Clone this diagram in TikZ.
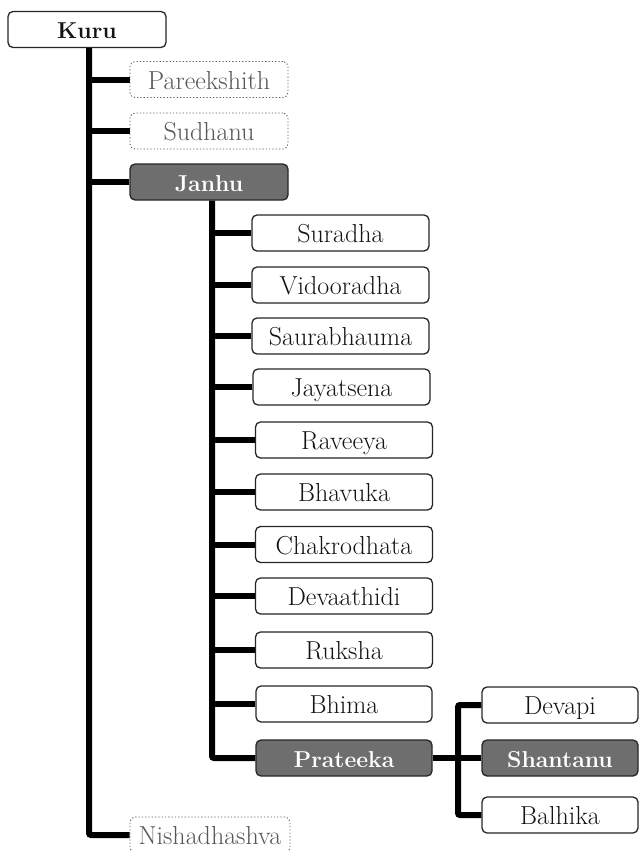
\documentclass[tikz,border=0pt]{standalone}
\usepackage{fontspec}
\begin{document}
\begin{tikzpicture}[x=1pt,y=-1pt,
  box/.style={draw=black!85, line width=1.3pt, rounded corners=5pt, minimum height=36pt,
    inner sep=0pt, text height=21pt, text depth=2pt, fill=white, text=black!92,
    font=\fontsize{26}{30}\selectfont},
  ghost/.style={box, draw=black!62, dotted, line width=0.9pt, text=black!66},
  hl/.style={box, fill=black!57, text=white, font=\bfseries\fontsize{23}{27}\selectfont},
  boldbox/.style={box, font=\bfseries\fontsize{23}{27}\selectfont},
  conn/.style={line width=6pt, draw=black, rounded corners=2pt}]
\useasboundingbox (0,0) rectangle (639,851);
% level 1
\node[boldbox, minimum width=158pt] (kuru) at (87,29.5) {Kuru};
\node[ghost, minimum width=158pt] (pare) at (209,79.5) {Pareekshith};
\node[ghost, minimum width=158pt] (sudh) at (209,131) {Sudhanu};
\node[hl, minimum width=158pt] (janh) at (209,182) {Janhu};
\node[ghost, minimum width=160pt] (nish) at (210,835) {Nishadhashva};
% level 2
\node[box, minimum width=177pt] (sura) at (340.5,233) {Suradha};
\node[box, minimum width=177pt] (vido) at (340.5,285) {Vidooradha};
\node[box, minimum width=177pt] (saur) at (340.5,336) {Saurabhauma};
\node[box, minimum width=177pt] (jaya) at (341.5,387) {Jayatsena};
\node[box, minimum width=177pt] (rave) at (344,440) {Raveeya};
\node[box, minimum width=177pt] (bhav) at (344,492) {Bhavuka};
\node[box, minimum width=177pt] (chak) at (344,544.5) {Chakrodhata};
\node[box, minimum width=177pt] (deva) at (344,596) {Devaathidi};
\node[box, minimum width=177pt] (ruks) at (344,650) {Ruksha};
\node[box, minimum width=176pt] (bhim) at (344,704) {Bhima};
\node[hl, minimum width=176pt] (prat) at (344,758) {Prateeka};
% level 3
\node[box, minimum width=156pt] (devp) at (560,705) {Devapi};
\node[hl, minimum width=156pt] (shan) at (560,758) {Shantanu};
\node[box, minimum width=156pt] (balh) at (560,815) {Balhika};
% trunk coordinates
\coordinate (kt) at ([xshift=2pt]kuru.south);
\coordinate (jt) at ([xshift=3pt]janh.south);
\coordinate (pt) at (458,758);
% connectors
\draw[conn] (kt) |- (nish.west);
\foreach \n in {pare,sudh,janh} \draw[conn] (\n.west) -- (\n.west -| kt);
\draw[conn] (jt) |- (prat.west);
\foreach \n in {sura,vido,saur,jaya,rave,bhav,chak,deva,ruks,bhim} \draw[conn] (\n.west) -- (\n.west -| jt);
\draw[conn] (prat.east) -- (shan.west);
\draw[conn] (devp.west) -| (pt) |- (balh.west);
\end{tikzpicture}
\end{document}
